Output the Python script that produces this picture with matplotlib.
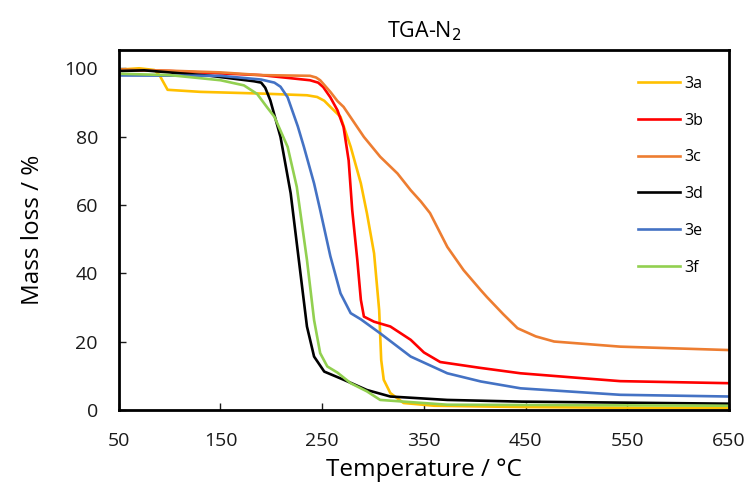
import matplotlib
matplotlib.use('Agg')
import matplotlib.pyplot as plt

# TGA curves (temperature in degC, mass in %)
t_3a = [50, 70, 85, 90, 98, 130, 190, 235, 245, 252, 258, 268, 278, 288, 294, 301, 306, 308, 310.5, 317, 330, 360, 450, 550, 650]
m_3a = [99.6, 100, 99.5, 98, 93.7, 93.1, 92.6, 92.1, 91.6, 90.5, 88.7, 85.8, 77, 66.3, 57.5, 45.8, 29.2, 14.6, 8.8, 4.9, 2.0, 1.2, 0.8, 0.6, 0.5]

t_3b = [50, 100, 150, 190, 238, 246, 251, 258, 265, 271, 276, 279.5, 284.5, 288, 291, 301, 317, 337, 350, 366, 405, 445, 500, 543, 650]
m_3b = [99.5, 99.2, 98.5, 98, 96.5, 95.8, 94.5, 91.5, 87.7, 82.8, 73, 58.5, 43.9, 32.2, 27.3, 25.8, 24.4, 20.5, 16.8, 14, 12.3, 10.7, 9.4, 8.4, 7.8]

t_3c = [50, 100, 150, 190, 238, 244, 248, 258, 265, 271, 291, 307, 324, 337, 347, 356, 373, 389, 406, 412, 428, 442, 460, 478, 543, 650]
m_3c = [99.6, 99.3, 98.8, 98, 97.8, 97.3, 96.5, 93.1, 90.4, 88.7, 79.9, 74.1, 69.2, 64.3, 61, 57.6, 47.7, 40.9, 35, 33, 28, 23.9, 21.5, 20, 18.5, 17.5]

t_3d = [50, 75, 140, 183, 190, 194, 199, 209, 219, 227, 235, 242, 252, 268, 275, 294, 317, 373, 446, 650]
m_3d = [99.2, 99.4, 97.8, 96.2, 95.8, 94.3, 90.6, 79.9, 63.4, 43.9, 24.4, 15.6, 11.2, 9.2, 8.3, 5.8, 3.9, 2.9, 2.4, 1.8]

t_3e = [50, 150, 190, 203, 209, 216, 226, 232, 242, 248, 258, 268, 278, 288, 307, 337, 373, 406, 445, 543, 650]
m_3e = [97.9, 97.8, 96.7, 95.8, 94.6, 91.5, 83, 77, 66.3, 58.5, 45, 34.1, 28.3, 26.5, 22.4, 15.6, 10.7, 8.3, 6.3, 4.4, 3.9]

t_3f = [50, 100, 150, 173, 186, 196, 203, 216, 225, 235, 242, 248, 255, 265, 278, 294, 307, 373, 650]
m_3f = [98.4, 98, 96.5, 95, 92.5, 88.5, 85.8, 77, 65.3, 43.9, 26.3, 16.6, 12.7, 10.9, 7.8, 5.4, 2.9, 1.5, 1.2]

labels = ['3a', '3b', '3c', '3d', '3e', '3f']
colors = ['#FFC000', '#FF0000', '#ED7D31', '#000000', '#4472C4', '#92D050']
series = [(t_3a, m_3a), (t_3b, m_3b), (t_3c, m_3c), (t_3d, m_3d), (t_3e, m_3e), (t_3f, m_3f)]

x_ticks = [50, 150, 250, 350, 450, 550, 650]
y_ticks = [0, 20, 40, 60, 80, 100]

plt.rcParams['font.family'] = ['Open Sans', 'DejaVu Sans']

fig = plt.figure(figsize=(7.47, 4.92), dpi=100)
ax = fig.add_axes([0.159, 0.167, 0.817, 0.731])

for (t, m), lab, c in zip(series, labels, colors):
    ax.plot(t, m, color=c, lw=1.9, label=lab, solid_joinstyle='round')

ax.set_xlim(50, 650)
ax.set_ylim(0, 105.3)
ax.set_xticks(x_ticks)
ax.set_yticks(y_ticks)
ax.tick_params(direction='in', length=5, width=1, labelsize=14, colors='#1a1a1a')
ax.tick_params(axis='y', pad=15)
ax.tick_params(axis='x', pad=16)
for s in ax.spines.values():
    s.set_linewidth(2)
    s.set_color('#000000')

ax.set_xlabel('Temperature / °C', fontsize=17.5, labelpad=6)
ax.set_ylabel('Mass loss / %', fontsize=17.5, labelpad=14)
ax.set_title('TGA-N$_2$', fontsize=15.5, pad=9)

ax.legend(loc='upper right', frameon=False, fontsize=11.5, handlelength=2.6,
          labelspacing=1.3, handletextpad=0.3, borderaxespad=1.2)

plt.savefig('out.png', dpi=100)
